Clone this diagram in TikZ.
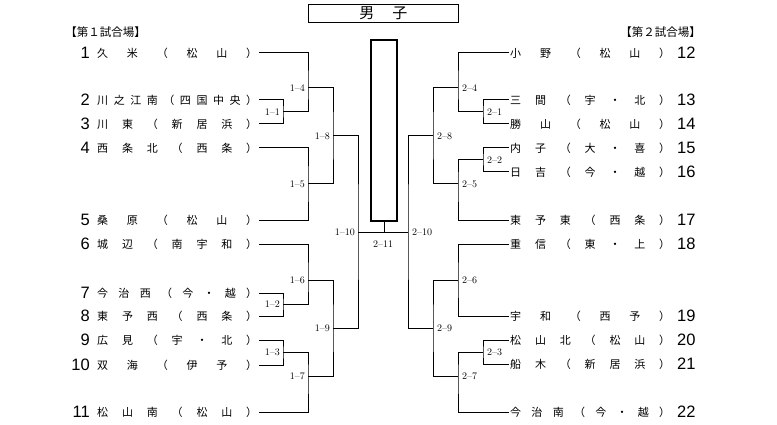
\documentclass[tikz,border=0pt]{standalone}
\usepackage{fontspec}
\newfontfamily\jp{Noto Sans CJK JP}
\newfontfamily\numf{Liberation Sans}
\def\spr#1{\hbox to 160pt{\sprA#1\relax}}
\def\sprA#1{#1\sprB}
\def\sprB#1{\ifx\relax#1\else\hfill#1\expandafter\sprB\fi}
\tikzset{
  teamname/.style={anchor=west, inner sep=0pt, font=\jp\fontsize{11}{11}\selectfont},
  seednum/.style={inner sep=0pt, font=\numf\fontsize{16.5}{16.5}\selectfont},
  mlabel/.style={inner sep=0pt, font=\fontsize{10}{10}\selectfont},
  header/.style={inner sep=0pt, font=\jp\fontsize{11.5}{11.5}\selectfont},
  bline/.style={line width=1pt},
}
\begin{document}
\begin{tikzpicture}[x=1pt,y=-1pt]
\useasboundingbox (0,0) rectangle (777,425);
% title
\node[draw, bline, minimum width=150pt, minimum height=18.5pt, inner sep=0pt,
  font=\jp\fontsize{15}{15}\selectfont] (title) at (383.3,13.5) {男\hspace{18pt}子};
\node[header] (h1) at (105.5,32) {【第１試合場】};
\node[header] (h2) at (660.5,32) {【第２試合場】};
% left teams
\foreach \i/\y/\t in {1/53/久米（松山）,2/100/川之江南（四国中央）,3/124/川東（新居浜）,
  4/148/西条北（西条）,5/220/桑原（松山）,6/244/城辺（南宇和）,7/293/今治西（今・越）,
  8/316/東予西（西条）,9/340/広見（宇・北）,10/365/双海（伊予）,11/412/松山南（松山）}{
  \node[seednum, anchor=east] (ln\i) at (90,\y) {\i};
  \node[teamname] (lt\i) at (97,\y) {\expandafter\spr\expandafter{\t}};
  \coordinate (la\i) at (259,\y);
}
% right teams
\foreach \i/\y/\t in {12/53/小野（松山）,13/100/三間（宇・北）,14/124/勝山（松山）,
  15/148/内子（大・喜）,16/172/日吉（今・越）,17/220/東予東（西条）,18/244/重信（東・上）,
  19/316/宇和（西予）,20/340/松山北（松山）,21/364/船木（新居浜）,22/412/今治南（今・越）}{
  \node[seednum, anchor=west] (rn\i) at (677,\y) {\i};
  \node[teamname] (rt\i) at (510,\y) {\expandafter\spr\expandafter{\t}};
  \coordinate (ra\i) at (509,\y);
}
% left matches
\coordinate (m11) at (283,112);
\coordinate (m12) at (283,304);
\coordinate (m13) at (283,352);
\coordinate (m14) at (308,88);
\coordinate (m15) at (308,184);
\coordinate (m16) at (308,280);
\coordinate (m17) at (308,376);
\coordinate (m18) at (333,136);
\coordinate (m19) at (333,328);
\coordinate (m110) at (358,232);
% right matches
\coordinate (m21) at (483,112);
\coordinate (m22) at (483,160);
\coordinate (m23) at (483,352);
\coordinate (m24) at (458,88);
\coordinate (m25) at (458,184);
\coordinate (m26) at (458,280);
\coordinate (m27) at (458,376);
\coordinate (m28) at (433,136);
\coordinate (m29) at (433,328);
\coordinate (m210) at (408,232);
\begin{scope}[bline]
\draw (la2) -| (m11) |- (la3);
\draw (la7) -| (m12) |- (la8);
\draw (la9) -| (m13) |- (la10);
\draw (la1) -| (m14) |- (m11);
\draw (la4) -| (m15) |- (la5);
\draw (la6) -| (m16) |- (m12);
\draw (m13) -| (m17) |- (la11);
\draw (m14) -| (m18) |- (m15);
\draw (m16) -| (m19) |- (m17);
\draw (m18) -| (m110) |- (m19);
\draw (ra13) -| (m21) |- (ra14);
\draw (ra15) -| (m22) |- (ra16);
\draw (ra20) -| (m23) |- (ra21);
\draw (ra12) -| (m24) |- (m21);
\draw (m22) -| (m25) |- (ra17);
\draw (ra18) -| (m26) |- (ra19);
\draw (m23) -| (m27) |- (ra22);
\draw (m24) -| (m28) |- (m25);
\draw (m26) -| (m29) |- (m27);
\draw (m28) -| (m210) |- (m29);
\draw (m110) -- (m210);
\end{scope}
% champion box
\node[draw, line width=2.2pt, minimum width=26pt, minimum height=181pt, inner sep=0pt] (champ) at (384,130.5) {};
\draw[bline] (champ.south) -- (champ.south |- m110);
% labels left
\foreach \m/\t in {m11/1--1,m12/1--2,m13/1--3,m14/1--4,m15/1--5,m16/1--6,m17/1--7,m18/1--8,m19/1--9,m110/1--10}{
  \node[mlabel, anchor=east] (l\m) at ([xshift=-3pt]\m) {\t};
}
\foreach \m/\t in {m21/2--1,m22/2--2,m23/2--3,m24/2--4,m25/2--5,m26/2--6,m27/2--7,m28/2--8,m29/2--9,m210/2--10}{
  \node[mlabel, anchor=west] (l\m) at ([xshift=4pt]\m) {\t};
}
\node[mlabel] (lfinal) at (383,244) {2--11};
\end{tikzpicture}
\end{document}
